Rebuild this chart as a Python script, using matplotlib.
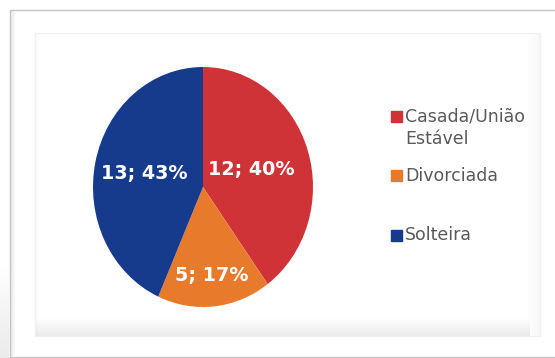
import numpy as np
import matplotlib.pyplot as plt
from matplotlib.patches import Rectangle

plt.rcParams['font.family'] = ['DejaVu Sans']

# data
categories = ['Casada/União\nEstável', 'Divorciada', 'Solteira']
counts = [12, 5, 13]
percents = [40, 17, 43]
colors = ['#CF3338', '#E87A2C', '#173B8C']
label_dist = [0.46, 0.74, 0.55]

W, H = 555, 358


def shade(ax, x0, x1, y0, y1, a0, a1, along='y', gray=0.55):
    # soft gray gradient used for the frame shadows
    n = 64
    alpha = np.linspace(a0, a1, n)
    if along == 'y':
        img = np.zeros((n, 1, 4))
        img[:, 0, 3] = alpha
    else:
        img = np.zeros((1, n, 4))
        img[0, :, 3] = alpha
    img[..., :3] = gray
    ax.imshow(img, extent=(x0, x1, y1, y0), aspect='auto',
              interpolation='bilinear', zorder=1)


fig = plt.figure(figsize=(W / 100, H / 100), dpi=100)
fig.patch.set_facecolor('white')

# background / frame in pixel coordinates
bg = fig.add_axes([0, 0, 1, 1])
bg.axis('off')

bg.add_patch(Rectangle((9.5, 10), 560, 346.5, fill=False, ec='#c4c4c4', lw=1, zorder=2))
shade(bg, 10, 16, 10, 356, 0.22, 0.0, along='x')
shade(bg, 0, 9, 262, 358, 0.0, 0.18)

bg.add_patch(Rectangle((35, 33), 505, 303, fill=False, ec='#f0f0f0', lw=1, zorder=2))
shade(bg, 35, 530, 318, 336, 0.0, 0.18)
shade(bg, 526, 540, 33, 336, 0.0, 0.07, along='x')
shade(bg, 35, 39, 33, 336, 0.06, 0.0, along='x')

# legend, drawn by hand to match the uneven two-line layout
y0, step = 116.5, 59.3
for i, (cat, col) in enumerate(zip(categories, colors)):
    yc = y0 + i * step
    bg.add_patch(Rectangle((391, yc - 5.5), 11, 11, color=col, zorder=3))
    for j, line in enumerate(cat.split('\n')):
        bg.text(405, yc + j * 22.4, line, ha='left', va='center',
                fontsize=12.5, color='#595959', zorder=3)

bg.set_xlim(0, W)
bg.set_ylim(H, 0)

# pie (slightly taller than wide, as in the original)
ax = fig.add_axes([93 / W, (H - 307) / H, 220 / W, 240 / H])
wedges, _ = ax.pie(counts, colors=colors, startangle=90, counterclock=False,
                   wedgeprops=dict(linewidth=0))
ax.set_aspect('auto')
ax.set_xlim(-1, 1)
ax.set_ylim(-1, 1)

for w, c, p, d in zip(wedges, counts, percents, label_dist):
    t = np.deg2rad((w.theta1 + w.theta2) / 2)
    ax.text(d * np.cos(t), d * np.sin(t), f'{c}; {p}%', ha='center', va='center',
            color='white', fontsize=13.8, fontweight='bold')

fig.savefig('out.png', dpi=100)
